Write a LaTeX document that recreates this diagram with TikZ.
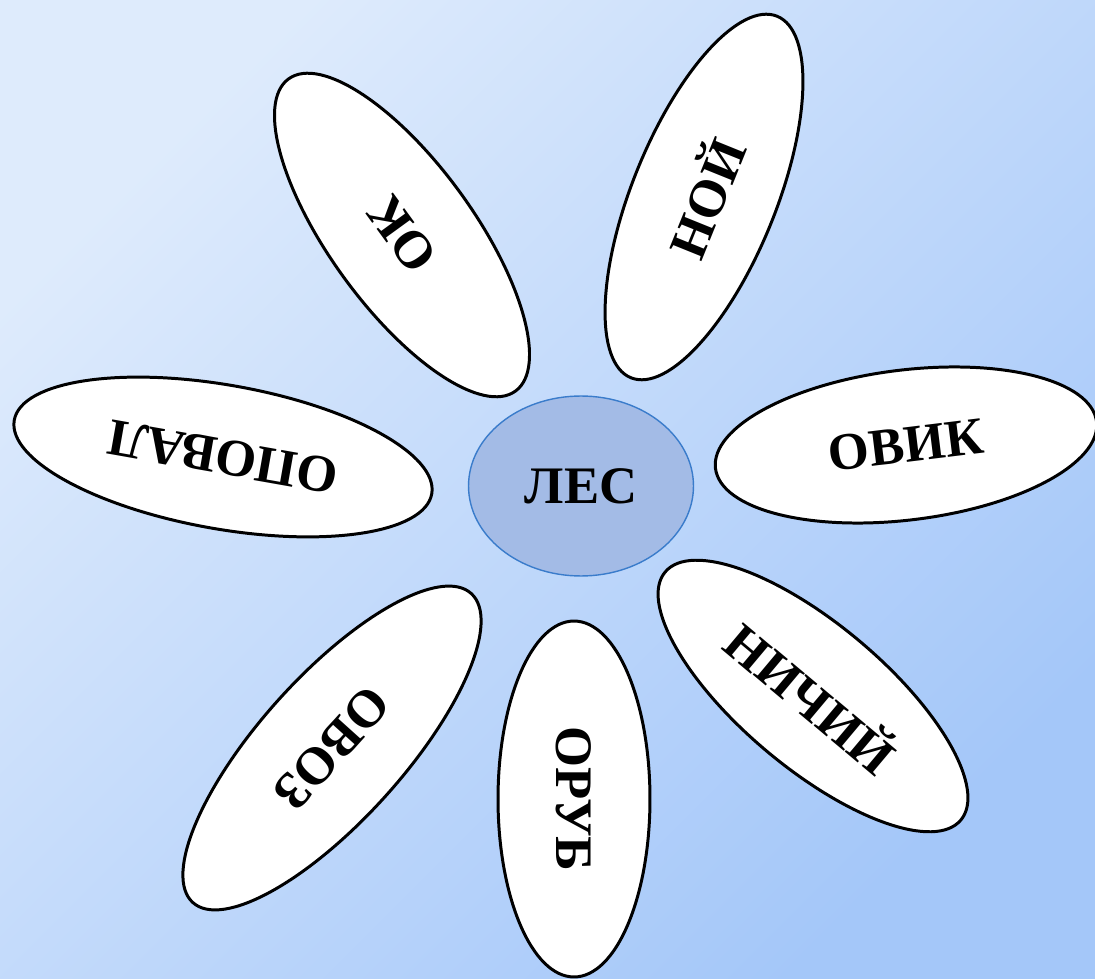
\documentclass[tikz,border=0pt]{standalone}
\usepackage{fontspec}
\setmainfont{Liberation Serif}
\usetikzlibrary{shapes.geometric}
\definecolor{bgtop}{RGB}{222,235,252}
\definecolor{bgbottom}{RGB}{164,199,249}
\definecolor{corefill}{RGB}{163,187,230}
\definecolor{coreline}{RGB}{58,124,203}

\begin{document}
\begin{tikzpicture}[x=0.02cm, y=-0.02cm,
    petal/.style={ellipse, draw, line width=1.7pt, fill=white, inner sep=0pt,
        minimum height=2.88cm, font=\fontsize{30}{30}\selectfont\bfseries}]
    \clip (0,0) rectangle (1095,979);
    \shade[top color=bgtop, bottom color=bgbottom, shading angle=45] (0,0) rectangle (1095,979);
    \path[every node/.style=petal]
        (402,235) node[minimum width=7.72cm, rotate=126] (ok){ОК}
        (704,197) node[minimum width=7.8cm, rotate=68] (noj){НОЙ}
        (906,445) node[minimum width=7.68cm, minimum height=3.0cm, rotate=7] (ovik){ОВИК}
        (813,696) node[minimum width=7.72cm, rotate=-40] (nichij){НИЧИЙ}
        (574,799) node[minimum width=7.12cm, minimum height=3.04cm, rotate=-90] (orub){ОРУБ}
        (332,748) node[minimum width=8.32cm, rotate=228] (ovoz){ОВОЗ}
        (223,457) node[minimum width=8.48cm, rotate=170] (opoval){ОПОВАЛ};
    \node[ellipse, draw=coreline, line width=0.8pt, fill=corefill, inner sep=0pt,
        minimum width=4.5cm, minimum height=3.6cm,
        font=\fontsize{30}{30}\selectfont\bfseries] (les) at (581,486) {ЛЕС};
\end{tikzpicture}
\end{document}
